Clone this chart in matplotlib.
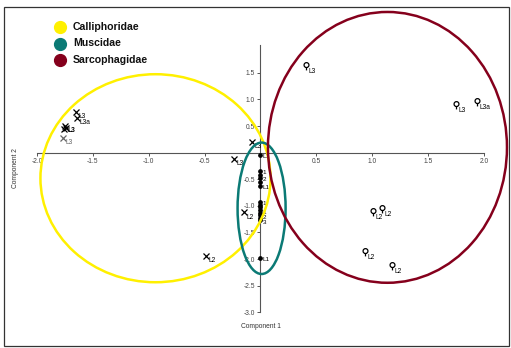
import matplotlib
matplotlib.use("Agg")
import matplotlib.pyplot as plt
from matplotlib.patches import Ellipse, Rectangle
from matplotlib.path import Path

plt.rcParams['font.family'] = ['Liberation Sans', 'DejaVu Sans']

# Calliphoridae scores (component 1, component 2) and stage labels
calli_x = [-1.65, -1.645, -1.75, -1.74, -1.755, -1.765, -0.073, -0.24, -0.145, -0.488]
calli_y = [0.76, 0.655, 0.50, 0.47, 0.45, 0.28, 0.21, -0.11, -1.12, -1.94]
calli_lab = ["L3", "L3a", "L3", "", "", "L3", "L3", "L3", "L2", "L2"]

# Muscidae scores
musca_x = [0.0, 0.0, 0.0, 0.0, 0.0, 0.0, 0.0, 0.0, 0.0, 0.0, 0.0, 0.0, 0.0, 0.0, 0.0]
musca_y = [-0.04, -0.34, -0.42, -0.47, -0.55, -0.62, -0.92, -0.98, -1.03, -1.08,
           -1.13, -1.18, -1.23, -1.27, -1.97]
musca_lab = ["L1", "1", "", "2", "", "L1", "1", "", "", "1", "", "2", "", "3", "L1"]

# Sarcophagidae scores
sarco_x = [0.405, 1.75, 1.94, 1.01, 1.085, 0.94, 1.18]
sarco_y = [1.62, 0.88, 0.93, -1.13, -1.08, -1.88, -2.15]
sarco_lab = ["L3", "L3", "L3a", "L2", "L2", "L2", "L2"]

# Group ellipses: centre x, centre y, width, height
groups = ["Calliphoridae", "Muscidae", "Sarcophagidae"]
ell_cx = [-0.94, 0.01, 1.137]
ell_cy = [-0.48, -1.045, 0.10]
ell_w = [2.06, 0.43, 2.14]
ell_h = [3.91, 2.47, 5.09]

x_ticks = [-2.0, -1.5, -1.0, -0.5, 0.5, 1.0, 1.5, 2.0]
y_ticks = [1.5, 1.0, 0.5, -0.5, -1.0, -1.5, -2.0, -2.5, -3.0]

colors = ["#fff000", "#0b7a75", "#85001c"]

fig = plt.figure(figsize=(5.11, 3.48), dpi=100)
ax = fig.add_axes([0, 0, 1, 1])
ax.set_xlim(-2.332, 2.243)
ax.set_ylim(-3.671, 2.870)

# axes crossing at the origin
for s in ["top", "right"]:
    ax.spines[s].set_visible(False)
ax.spines["left"].set_position(("data", 0))
ax.spines["bottom"].set_position(("data", 0))
ax.spines["left"].set_bounds(-3.0, 2.02)
ax.spines["bottom"].set_bounds(-2.0, 2.0)
for s in ["left", "bottom"]:
    ax.spines[s].set_color("#555555")
    ax.spines[s].set_linewidth(0.8)
ax.set_xticks(x_ticks)
ax.set_yticks(y_ticks)
ax.set_xticklabels([f"{v:.1f}" for v in x_ticks])
ax.set_yticklabels([f"{v:.1f}" for v in y_ticks])
ax.tick_params(axis="both", direction="out", length=2.5, width=0.7, color="#555555",
               labelsize=4.8, labelcolor="#444444", pad=1.5)
ax.patch.set_visible(False)

# female-symbol style marker: circle with a short stem
circ = Path.circle((0, 0.5), 0.5)
stem = Path([(0, 0), (0, -0.6)], [Path.MOVETO, Path.LINETO])
venus = Path.make_compound_path(circ, stem)


def label(x, y, t, color="black", weight="normal"):
    if t:
        ax.annotate(t, (x, y), xytext=(1.8, -3.4), textcoords="offset points",
                    fontsize=4.8, color=color, ha="left", va="center",
                    fontweight=weight)


for i, (x, y, t) in enumerate(zip(calli_x, calli_y, calli_lab)):
    c = "#666666" if i == 5 else "black"
    ax.plot(x, y, marker="x", ms=3.8, mew=0.9, color=c, ls="none", zorder=3)
    label(x, y, t, c, "bold" if i == 2 else "normal")

for x, y, t in zip(musca_x, musca_y, musca_lab):
    ax.plot(x, y, marker="o", ms=2.4, color="black", ls="none", zorder=3)
    if t:
        ax.annotate(t, (x, y), xytext=(1.8, -1.5), textcoords="offset points",
                    fontsize=4.6, color="black", ha="left", va="center")

for x, y, t in zip(sarco_x, sarco_y, sarco_lab):
    ax.plot(x, y, marker=venus, ms=7, mew=0.9, mfc="none", mec="black",
            ls="none", zorder=3)
    label(x, y, t)

for cx, cy, w, h, c in zip(ell_cx, ell_cy, ell_w, ell_h, colors):
    ax.add_patch(Ellipse((cx, cy), w, h, fill=False, ec=c, lw=1.8, zorder=4))

# legend
leg_y = [0.923, 0.875, 0.829]
for g, c, yy in zip(groups, colors, leg_y):
    fig.lines.append(plt.Line2D([60 / 511], [yy], marker="o", ms=8.5, color=c,
                                transform=fig.transFigure, ls="none"))
    fig.text(73 / 511, yy, g, fontsize=7.6, fontweight="bold", va="center",
             ha="left", color="#111111")

ax.text(0.0, -3.27, "Component 1", fontsize=4.8, color="#333333",
        ha="center", va="center")
fig.text(15.5 / 511, 1 - 168 / 348, "Component 2", fontsize=4.8, color="#333333",
         rotation=90, ha="center", va="center")

# outer frame
fig.patches.append(Rectangle((4 / 511, 2 / 348), 505 / 511, 339 / 348, fill=False,
                             ec="#333333", lw=0.9, transform=fig.transFigure))

fig.savefig("out.png", dpi=100)
